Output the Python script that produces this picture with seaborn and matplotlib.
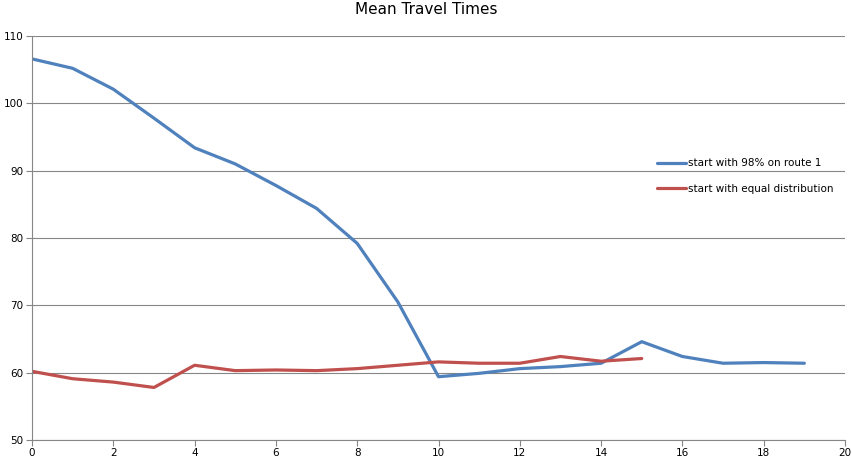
import matplotlib
matplotlib.use("Agg")
import matplotlib.pyplot as plt
import seaborn as sns
import pandas as pd

x_blue = list(range(20))
blue = [106.6, 105.2, 102.1, 97.8, 93.4, 91.0, 87.8, 84.4, 79.2, 70.5,
        59.4, 59.9, 60.6, 60.9, 61.4, 64.6, 62.4, 61.4, 61.5, 61.4]
x_red = list(range(16))
red = [60.2, 59.1, 58.6, 57.8, 61.1, 60.3, 60.4, 60.3, 60.6, 61.1,
       61.6, 61.4, 61.4, 62.4, 61.7, 62.1]
series_names = ["start with 98% on route 1", "start with equal distribution"]
colors = ["#4F81BD", "#C0504D"]
title = "Mean Travel Times"
xticks = list(range(0, 21, 2))
yticks = list(range(50, 111, 10))

df = pd.concat([
    pd.DataFrame({"x": x_blue, "y": blue, "series": series_names[0]}),
    pd.DataFrame({"x": x_red, "y": red, "series": series_names[1]}),
])

sns.set_style("white")
plt.rcParams["font.family"] = ["DejaVu Sans"]

fig = plt.figure(figsize=(8.53, 4.62), dpi=100)
ax = fig.add_axes([32/853, 1-440/462, (845-32)/853, (440-36)/462])

sns.lineplot(data=df, x="x", y="y", hue="series", hue_order=series_names,
             palette=colors, linewidth=2.3, ax=ax, legend=True)

ax.set_xlim(0, 20)
ax.set_ylim(50, 110)
ax.set_xticks(xticks)
ax.set_yticks(yticks)
ax.set_xlabel("")
ax.set_ylabel("")
ax.grid(axis="y", color="#868686", linewidth=0.8)
ax.grid(axis="x", visible=False)
ax.set_axisbelow(True)
for s in ["top", "right"]:
    ax.spines[s].set_visible(False)
for s in ["left", "bottom"]:
    ax.spines[s].set_color("#868686")
    ax.spines[s].set_linewidth(0.8)
ax.tick_params(axis="both", which="both", direction="out", length=4,
               width=0.8, color="#868686", labelsize=7.5, pad=2,
               labelcolor="black", left=True, bottom=True)

fig.text(0.5, 1-10/462, title, ha="center", va="center", fontsize=11,
         color="black")

handles, labels = ax.get_legend_handles_labels()
leg = ax.legend(handles, labels, loc="center left",
          bbox_to_anchor=(657/853, 1-176/462), bbox_transform=fig.transFigure,
          frameon=False, fontsize=7.5, handlelength=2.8, handletextpad=0.2,
          borderpad=0, borderaxespad=0, labelspacing=1.5)
for t in leg.get_texts():
    t.set_color("black")

fig.savefig("out.png", dpi=100)
